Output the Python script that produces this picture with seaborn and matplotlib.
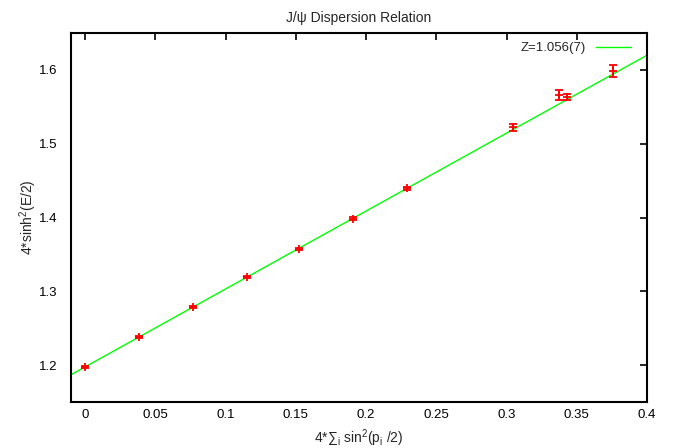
import numpy as np
import pandas as pd
import matplotlib
matplotlib.use("Agg")
import matplotlib.pyplot as plt
import seaborn as sns

# Data
p2 = [0.0, 0.0384, 0.0769, 0.1153, 0.1522, 0.1907, 0.2291, 0.3045, 0.3372, 0.3429, 0.3756]
e2 = [1.1977, 1.2376, 1.2782, 1.3193, 1.3571, 1.3982, 1.4396, 1.5223, 1.5657, 1.5632, 1.5990]
err = [0.0015, 0.0015, 0.0015, 0.0015, 0.0018, 0.0018, 0.0018, 0.0045, 0.0068, 0.0038, 0.0082]
fit_intercept = 1.1975
fit_Z = 1.056
fit_label = "Z=1.056(7)"
x_ticks = [0, 0.05, 0.1, 0.15, 0.2, 0.25, 0.3, 0.35, 0.4]
x_tick_labels = ["0", "0.05", "0.1", "0.15", "0.2", "0.25", "0.3", "0.35", "0.4"]
y_ticks = [1.2, 1.3, 1.4, 1.5, 1.6]
y_tick_labels = ["1.2", "1.3", "1.4", "1.5", "1.6"]
xlim = (-0.01, 0.4)
ylim = (1.15, 1.65)

sns.set_theme(style="white")
plt.rcParams["font.family"] = ["Liberation Sans", "DejaVu Sans"]
plt.rcParams["mathtext.fontset"] = "custom"
plt.rcParams["mathtext.rm"] = "Liberation Sans"
plt.rcParams["mathtext.it"] = "Liberation Sans"

fig = plt.figure(figsize=(6.73, 4.48), dpi=100)
ax = fig.add_axes([71 / 673, 1 - 402 / 448, (647 - 71) / 673, (402 - 33) / 448])

df = pd.DataFrame({"p2": p2, "e2": e2, "err": err})
fit_x = np.array(xlim)
fit_df = pd.DataFrame({"x": fit_x, "y": fit_intercept + fit_Z * fit_x})

sns.lineplot(data=fit_df, x="x", y="y", ax=ax, color="#00ff00", lw=1.0, label=fit_label)
ax.errorbar(df["p2"], df["e2"], yerr=df["err"], fmt="none", ecolor="#ff0000",
            elinewidth=1.3, capsize=3.2, capthick=1.3, zorder=3)
sns.scatterplot(data=df, x="p2", y="e2", ax=ax, marker="+", color="#ff0000",
                s=30, linewidth=1.3, zorder=4)

ax.set_xlim(*xlim)
ax.set_ylim(*ylim)
ax.set_xticks(x_ticks)
ax.set_xticklabels(x_tick_labels)
ax.set_yticks(y_ticks)
ax.set_yticklabels(y_tick_labels)
ax.tick_params(direction="in", length=5, width=1.2, top=True, right=True,
               labelsize=9.5, colors="black")
ax.tick_params(axis="x", pad=5)
ax.tick_params(axis="y", pad=10)
for s in ax.spines.values():
    s.set_color("black")
    s.set_linewidth(1.5)

ax.set_title("J/ψ Dispersion Relation", fontsize=10, pad=8)
ax.set_xlabel(r"4*∑$_\mathregular{i}$ sin$^\mathregular{2}$(p$_\mathregular{i}$ /2)", fontsize=10, labelpad=5)
ax.set_ylabel(r"4*sinh$^\mathregular{2}$(E/2)", fontsize=10, labelpad=0)

ax.legend(loc="upper right", bbox_to_anchor=(0.992, 1.008), frameon=False,
          markerfirst=False, fontsize=9.5, handlelength=2.6, handletextpad=0.8)

fig.savefig("out.png", dpi=100, facecolor="white")
